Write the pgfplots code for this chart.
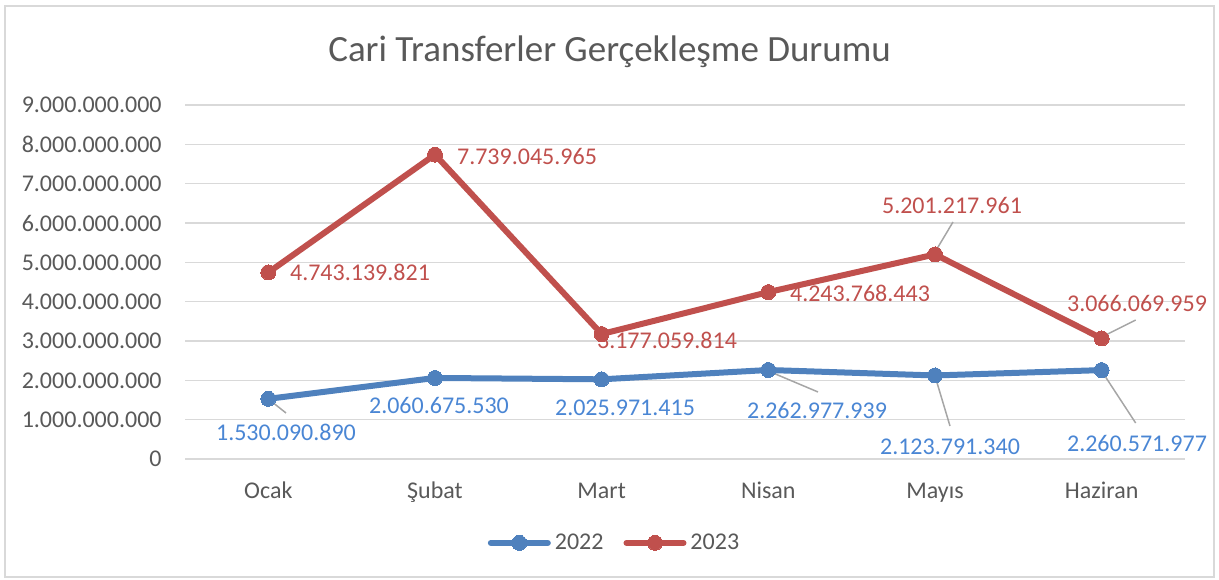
\documentclass[border=0pt]{standalone}
\usepackage{fontspec}
\setmainfont{Carlito}
\usepackage{pgfplots}
\pgfplotsset{compat=1.18}
\definecolor{blueS}{HTML}{4F81BD}
\definecolor{blueT}{HTML}{4A86D4}
\definecolor{redS}{HTML}{C0504D}
\definecolor{txt}{HTML}{595959}
\definecolor{grd}{HTML}{D9D9D9}
\definecolor{lead}{HTML}{A6A6A6}
\definecolor{frm}{HTML}{D9D9D9}
\begin{document}
\begin{tikzpicture}
\begin{axis}[
  at={(92.5pt,60pt)}, anchor=south west,
  scale only axis, width=500pt, height=177pt,
  xmin=-0.5, xmax=5.5, ymin=0, ymax=9e9,
  scaled y ticks=false,
  xtick={0,1,2,3,4,5},
  xticklabels={Ocak,Şubat,Mart,Nisan,Mayıs,Haziran},
  ytick={0,1e9,2e9,3e9,4e9,5e9,6e9,7e9,8e9,9e9},
  yticklabels={0,1.000.000.000,2.000.000.000,3.000.000.000,4.000.000.000,5.000.000.000,6.000.000.000,7.000.000.000,8.000.000.000,9.000.000.000},
  ymajorgrids, grid style={grd, line width=0.8pt},
  axis line style={draw=none}, major tick length=0pt,
  tick label style={font=\fontsize{12}{14}\selectfont, text=txt, inner sep=0pt},
  yticklabel style={anchor=east, xshift=-11.5pt},
  xticklabel style={anchor=base, yshift=-19.5pt},
  clip=false,
  legend columns=2,
  legend style={at={(0.4285,-0.237)}, anchor=center, draw=none, fill=none,
    font=\fontsize{12}{14}\selectfont, text=txt,
    nodes={inner sep=0pt},
    /tikz/every odd column/.append style={column sep=2pt},
    /tikz/every even column/.append style={column sep=10pt}},
  legend image code/.code={\draw[mark repeat=2,mark phase=2,#1, line cap=round] plot coordinates {(0pt,0pt) (14.25pt,0pt) (28.5pt,0pt)};},
  every axis plot/.append style={line width=3pt, line join=round},
]
\addplot[blueS, mark=*, mark size=3.75pt, mark options={line width=0pt, fill=blueS, draw=blueS}] coordinates {
(0,1530090890) (1,2060675530) (2,2025971415) (3,2262977939) (4,2123791340) (5,2260571977)};
\addlegendentry{2022}
\addplot[redS, mark=*, mark size=3.75pt, mark options={line width=0pt, fill=redS, draw=redS}] coordinates {
(0,4743139821) (1,7739045965) (2,3177059814) (3,4243768443) (4,5201217961) (5,3066069959)};
\addlegendentry{2023}

% leader lines
\draw[lead, line width=0.75pt] (axis cs:4,5.26e9) -- (axis cs:4.108,6.026e9);
\draw[lead, line width=0.75pt] (axis cs:5,3.10e9) -- (axis cs:5.204,3.534e9);
\draw[lead, line width=0.75pt] (axis cs:0,1.526e9) -- (axis cs:0.106,1.170e9);
\draw[lead, line width=0.75pt] (axis cs:3,2.237e9) -- (axis cs:3.298,1.704e9);
\draw[lead, line width=0.75pt] (axis cs:4,2.11e9) -- (axis cs:4.09,0.839e9);
\draw[lead, line width=0.75pt] (axis cs:5,2.237e9) -- (axis cs:5.204,0.915e9);

% data labels 2023
\begin{scope}[every node/.style={font=\fontsize{12}{14}\selectfont, text=redS, inner sep=0pt, anchor=center}]
\node at (axis cs:0.55,4.755e9) {4.743.139.821};
\node at (axis cs:1.552,7.704e9) {7.739.045.965};
\node at (axis cs:2.392,3.026e9) {3.177.059.814};
\node at (axis cs:3.55,4.221e9) {4.243.768.443};
\node at (axis cs:4.102,6.458e9) {5.201.217.961};
\node at (axis cs:5.212,3.966e9) {3.066.069.959};
\end{scope}
% data labels 2022
\begin{scope}[every node/.style={font=\fontsize{12}{14}\selectfont, text=blueT, inner sep=0pt, anchor=center}]
\node at (axis cs:0.106,0.686e9) {1.530.090.890};
\node at (axis cs:1.024,1.348e9) {2.060.675.530};
\node at (axis cs:2.14,1.297e9) {2.025.971.415};
\node at (axis cs:3.292,1.246e9) {2.262.977.939};
\node at (axis cs:4.09,0.305e9) {2.123.791.340};
\node at (axis cs:5.212,0.407e9) {2.260.571.977};
\end{scope}
\end{axis}
\node[anchor=base, font=\fontsize{18.5}{22}\selectfont, text=txt, inner sep=0pt] at (304.75pt,258.5pt) {Cari Transferler Gerçekleşme Durumu};
\draw[frm, line width=0.75pt] (2.5pt,1pt) rectangle (607pt,286.5pt);
\pgfresetboundingbox
\path (0,0) rectangle (609.5pt,289.5pt);
\end{tikzpicture}
\end{document}
